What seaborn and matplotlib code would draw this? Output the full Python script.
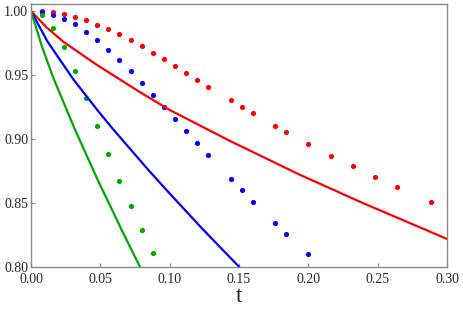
import numpy as np
import pandas as pd
import matplotlib
matplotlib.use('Agg')
import matplotlib.pyplot as plt
import seaborn as sns

# dots
red_t = [0.0077, 0.0156, 0.0238, 0.0319, 0.0399, 0.0478, 0.0557, 0.0637, 0.0719, 0.0798,
         0.0878, 0.0959, 0.1038, 0.1118, 0.1199, 0.1279, 0.1440, 0.1519, 0.1599, 0.1760,
         0.1839, 0.2000, 0.2161, 0.2320, 0.2481, 0.2642, 0.2882]
red_y = [1.0000, 0.9990, 0.9977, 0.9955, 0.9927, 0.9893, 0.9857, 0.9818, 0.9771, 0.9724,
         0.9674, 0.9623, 0.9570, 0.9518, 0.9463, 0.9409, 0.9305, 0.9252, 0.9201, 0.9104,
         0.9052, 0.8961, 0.8870, 0.8787, 0.8703, 0.8625, 0.8510]

blue_t = [0.0077, 0.0156, 0.0238, 0.0319, 0.0399, 0.0478, 0.0557, 0.0637, 0.0719, 0.0798,
          0.0878, 0.0959, 0.1038, 0.1118, 0.1199, 0.1279, 0.1440, 0.1519, 0.1599, 0.1760,
          0.1839, 0.2000]
blue_y = [0.9995, 0.9971, 0.9940, 0.9896, 0.9838, 0.9771, 0.9695, 0.9615, 0.9531, 0.9440,
          0.9346, 0.9252, 0.9158, 0.9060, 0.8966, 0.8873, 0.8688, 0.8599, 0.8510, 0.8340,
          0.8258, 0.8099]

green_t = [0.0077, 0.0156, 0.0238, 0.0319, 0.0399, 0.0478, 0.0557, 0.0637, 0.0719, 0.0798, 0.0878]
green_y = [0.9971, 0.9870, 0.9719, 0.9531, 0.9320, 0.9104, 0.8885, 0.8674, 0.8474, 0.8293, 0.8109]

# curves
red_line_t = [0.0, 0.0110, 0.0233, 0.0474, 0.0786, 0.1002, 0.1435, 0.1940, 0.2397, 0.2854, 0.3000]
red_line_y = [1.0, 0.9875, 0.9760, 0.9580, 0.9366, 0.9226, 0.8985, 0.8720, 0.8498, 0.8287, 0.8219]

blue_line_t = [0.0, 0.0120, 0.0305, 0.0474, 0.0594, 0.0858, 0.1002, 0.1231, 0.1502]
blue_line_y = [1.0, 0.9760, 0.9467, 0.9232, 0.9074, 0.8744, 0.8572, 0.8304, 0.8000]

green_line_t = [0.0, 0.0080, 0.0160, 0.0317, 0.0480, 0.0654, 0.0786]
green_line_y = [1.0, 0.9720, 0.9480, 0.9074, 0.8683, 0.8290, 0.8000]

RED, BLUE, GREEN = '#ff0000', '#0000ff', '#00a800'

sns.set_style('white')
plt.rcParams['font.family'] = ['Liberation Serif', 'DejaVu Serif']

fig = plt.figure(figsize=(4.63, 3.11), dpi=100)
ax = fig.add_axes([31 / 463, 1 - 267 / 311, 416 / 463, 263 / 311])

for tt, yy, c in [(red_line_t, red_line_y, RED), (blue_line_t, blue_line_y, BLUE),
                  (green_line_t, green_line_y, GREEN)]:
    sns.lineplot(x=tt, y=yy, color=c, lw=1.6, sort=False, estimator=None, ax=ax)

for tt, yy, c in [(red_t, red_y, RED), (blue_t, blue_y, BLUE), (green_t, green_y, GREEN)]:
    sns.scatterplot(x=tt, y=yy, color=c, s=14, linewidth=0, ax=ax)

ax.set_xlim(0, 0.30)
ax.set_ylim(0.80, 1.0055)
ax.set_xticks([0.0, 0.05, 0.10, 0.15, 0.20, 0.25, 0.30])
ax.set_xticklabels(['0.00', '0.05', '0.10', '0.15', '0.20', '0.25', '0.30'])
ax.set_yticks([0.80, 0.85, 0.90, 0.95, 1.00])
ax.set_yticklabels(['0.80', '0.85', '0.90', '0.95', '1.00'])
ax.tick_params(direction='in', length=3, width=0.8, color='#888888', labelsize=10,
               pad=2, bottom=True, left=True)
ax.tick_params(axis='x', pad=4)
for sp in ax.spines.values():
    sp.set_color('#888888')
    sp.set_linewidth(1.0)
ax.set_xlabel('t', fontsize=17, labelpad=0)
ax.set_ylabel('')

fig.savefig('out.png', dpi=100)
